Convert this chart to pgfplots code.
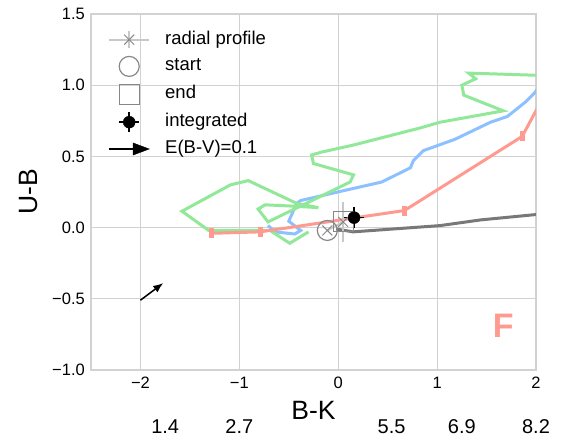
\documentclass[border=0pt]{standalone}
\usepackage{pgfplots}
\pgfplotsset{compat=1.18}
\usepackage{fontspec}
\setmainfont{Liberation Sans}
\usetikzlibrary{arrows.meta}
\definecolor{cgreen}{RGB}{144,232,152}
\definecolor{cblue}{RGB}{140,192,255}
\definecolor{cred}{RGB}{255,154,144}
\definecolor{cdark}{RGB}{120,120,120}
\definecolor{cmid}{RGB}{135,135,135}
\definecolor{clight}{RGB}{200,200,200}
\definecolor{cgrid}{RGB}{210,210,210}
\begin{document}
\begin{tikzpicture}
\begin{axis}[
  scale only axis, width=445pt, height=356pt,
  xmin=-2.5, xmax=2, ymin=-1, ymax=1.5,
  xtick={-2,-1,0,1,2}, xticklabels={−2,−1,0,1,2},
  ytick={-1,-0.5,0,0.5,1,1.5}, yticklabels={−1.0,−0.5,0.0,0.5,1.0,1.5},
  grid=major, grid style={cgrid, line width=1.2pt},
  axis line style={cgrid, line width=1.2pt},
  major tick length=0pt,
  tick label style={font=\fontsize{16.5}{16.5}\selectfont},
  xticklabel style={anchor=center, inner sep=0pt, yshift=-13pt},
  yticklabel style={anchor=east, inner sep=0pt, xshift=-6pt},
  extra x ticks={-1.75,-1,0.54,1.25,2},
  extra x tick labels={1.4,2.7,5.5,6.9,8.2},
  extra x tick style={grid=none, xticklabel style={yshift=-44pt, font=\fontsize{20}{20}\selectfont}},
  xlabel={B-K}, ylabel={U-B},
  every axis x label/.style={at={(axis description cs:0.5,-0.1124)}, anchor=center, font=\fontsize{26.5}{26.5}\selectfont},
  every axis y label/.style={at={(axis description cs:-0.1404,0.5)}, rotate=90, anchor=center, font=\fontsize{26.5}{26.5}\selectfont},
  legend style={draw=none, fill=none, at={(axis description cs:0,1)}, anchor=north west,
    xshift=17pt, yshift=-16pt, inner sep=0pt,
    font=\fontsize{18.5}{18.5}\selectfont, row sep=6.6pt,
    nodes={inner sep=0pt, text height=14pt, text depth=5pt},
    /tikz/every odd column/.append style={column sep=15pt}},
  legend cell align=left,
]
\addlegendimage{legend image code/.code={
  \draw[clight, line width=2pt] (0pt,0pt) -- (40pt,0pt);
  \draw[clight, line width=2pt] (20pt,-8.5pt) -- (20pt,8.5pt);
  \draw[cmid, line width=1pt] (15pt,-5pt) -- (25pt,5pt) (15pt,5pt) -- (25pt,-5pt);}}
\addlegendentry{radial profile}
\addlegendimage{legend image code/.code={
  \draw[cmid, line width=1.2pt] (20pt,0pt) circle (10pt);}}
\addlegendentry{start}
\addlegendimage{legend image code/.code={
  \draw[cmid, line width=1.2pt] (10pt,-10pt) rectangle (30pt,10pt);}}
\addlegendentry{end}
\addlegendimage{legend image code/.code={
  \draw[black, line width=1.5pt] (10pt,0pt) -- (30pt,0pt) (20pt,-10pt) -- (20pt,10pt);
  \fill[black] (20pt,0pt) circle (6pt);}}
\addlegendentry{integrated}
\addlegendimage{legend image code/.code={
  \draw[black, line width=1.5pt] (0pt,0pt) -- (26pt,0pt);
  \fill[black] (40pt,0pt) -- (24pt,6pt) -- (24pt,-6pt) -- cycle;}}
\addlegendentry{E(B-V)=0.1}

% blue
\addplot[cblue, line width=3pt, forget plot] coordinates {
(-0.71,0.015) (-0.64,-0.03) (-0.44,-0.045) (-0.38,-0.02) (-0.50,0.045)
(-0.42,0.17) (-0.38,0.19) (0.09,0.265) (0.44,0.32) (0.73,0.42) (0.76,0.47)
(0.86,0.54) (1.18,0.62) (1.54,0.74) (1.71,0.78) (1.89,0.88) (1.95,0.92)
(1.99,0.95) (2.08,1.03)};
% green
\addplot[cgreen, line width=3pt, forget plot] coordinates {
(-0.30,-0.03) (-0.49,-0.11) (-0.69,-0.02) (-1.31,-0.02) (-1.58,0.115)
(-1.09,0.30) (-0.91,0.33) (-0.42,0.17) (-0.20,0.14) (-0.44,0.15)
(-0.74,0.16) (-0.81,0.13) (-0.71,0.04) (0.12,0.32) (0.155,0.37)
(-0.25,0.45) (-0.27,0.51) (-0.17,0.53) (0.155,0.58) (0.83,0.70)
(1.03,0.74) (1.67,0.82) (1.27,0.93) (1.25,1.0) (1.39,1.045) (1.32,1.085)
(1.99,1.07) (2.1,1.07)};
% red
\addplot[cred, line width=3pt, mark=|, mark size=5pt, mark options={line width=5pt}, forget plot] coordinates {
(-1.28,-0.04) (-0.79,-0.03) (0.67,0.12) (1.86,0.64) (2.06,0.898)};
% dark gray
\addplot[cdark, line width=3pt, forget plot] coordinates {
(-0.02,-0.01) (0.15,-0.03) (1.03,0.014) (1.44,0.054) (2.05,0.095)};
% radial profile
\addplot[clight, line width=2pt, mark=x, mark size=7pt, mark options={cmid, line width=1pt}, forget plot,
  error bars/.cd, y dir=both, y explicit, error mark=none, error bar style={clight, line width=2pt}]
  coordinates {(-0.11,-0.02) +- (0,0) (0.05,0.04) +- (0,0.14)};
% start
\addplot[only marks, mark=o, mark size=10pt, mark options={cmid, line width=1.2pt}, forget plot]
  coordinates {(-0.11,-0.02)};
% end
\addplot[only marks, mark=square, mark size=10pt, mark options={cmid, line width=1.2pt}, forget plot]
  coordinates {(0.05,0.04)};
% integrated
\addplot[black, only marks, mark=*, mark size=6pt, forget plot,
  error bars/.cd, x dir=both, x explicit, y dir=both, y explicit, error mark=none,
  error bar style={black, line width=1.5pt}]
  coordinates {(0.16,0.07) +- (0.1,0.075)};
% reddening arrow
\addplot[black, line width=1.5pt, -{Latex[length=10pt,width=8pt]}, forget plot]
  coordinates {(-2,-0.51) (-1.77,-0.39)};
\node[text=cred, font=\fontsize{34}{34}\selectfont\bfseries] at (axis cs:1.67,-0.69) {F};
\end{axis}
\path (-91pt,-71pt) rectangle (475pt,370pt);
\end{tikzpicture}
\end{document}
